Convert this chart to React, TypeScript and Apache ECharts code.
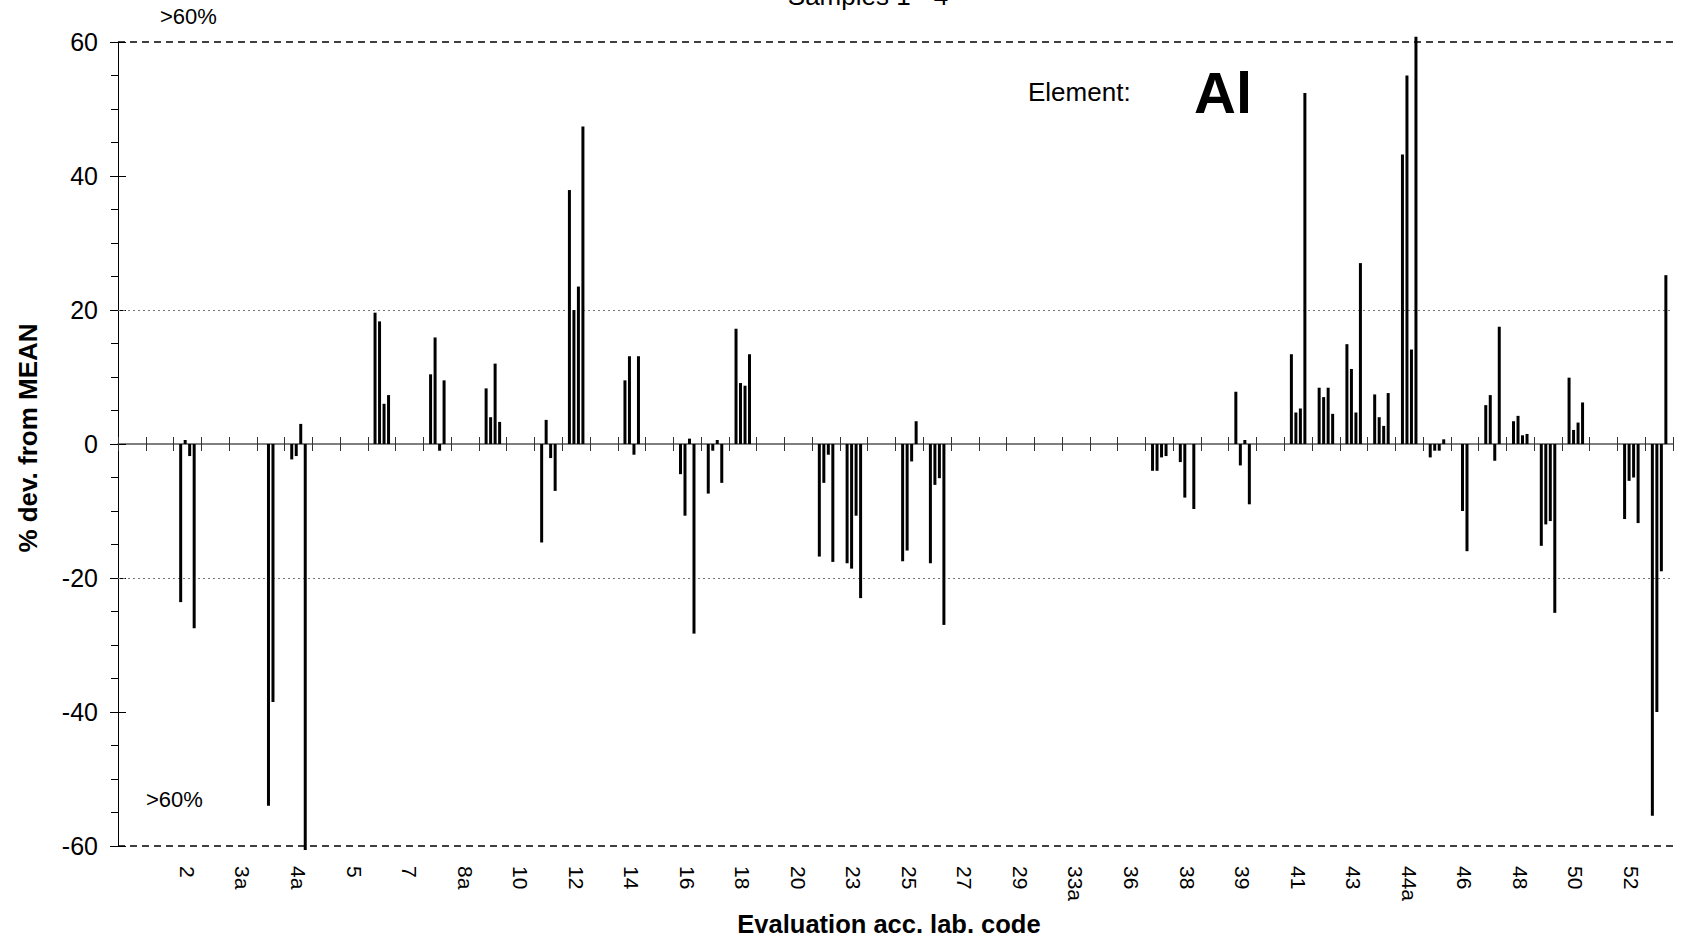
import { useEffect, useRef } from "react";
import * as echarts from "echarts";

// All lab codes on the category axis (every second one is labelled)
const labCodes = [
  "1", "1a", "2", "3", "3a", "4", "4a", "4b", "5", "6",
  "7", "8", "8a", "9", "10", "11", "12", "13", "14", "15",
  "16", "17", "18", "19", "20", "22", "23", "24", "25", "26",
  "27", "28", "29", "33", "33a", "35", "36", "37", "38", "38a",
  "39", "40", "41", "42", "43", "44", "44a", "45", "46", "47",
  "48", "49", "50", "51", "52", "53",
];

// Labs that reported results, and their % deviation from MEAN per sample
const reportedLabs = [
  "2", "4", "4a", "6", "8", "9", "11", "12", "14", "16",
  "17", "18", "22", "23", "25", "26", "37", "38", "39", "41",
  "42", "43", "44", "44a", "45", "46", "47", "48", "49", "50",
  "52", "53",
];
const sample1 = [
  -23.6, null, -2.3, 19.6, 10.4, 8.3, -14.7, 37.9, 9.5, -4.5,
  -7.4, 17.2, -16.8, -17.8, -17.5, -17.8, -4.0, -2.7, 7.8, 13.4,
  8.4, 14.9, 7.4, 43.2, -2.0, null, 5.8, 3.4, -15.2, 9.9,
  -11.2, -55.5,
];
const sample2 = [
  0.6, -54.0, -1.8, 18.3, 15.9, 4.0, 3.6, 20.0, 13.1, -10.7,
  -1.0, 9.1, -5.8, -18.6, -15.9, -6.1, -4.0, -8.0, -3.2, 4.7,
  7.0, 11.2, 4.0, 55.0, -1.0, -10.0, 7.3, 4.2, -12.0, 2.1,
  -5.5, -40.0,
];
const sample3 = [
  -1.8, -38.5, 3.0, 6.0, -1.0, 12.0, -2.1, 23.5, -1.6, 0.8,
  0.6, 8.7, -1.6, -10.7, -2.6, -5.1, -2.0, null, 0.6, 5.3,
  8.4, 4.7, 2.7, 14.1, -1.0, -16.0, -2.5, 1.3, -11.5, 3.2,
  -5.0, -19.0,
];
const sample4 = [
  -27.5, null, -60.6, 7.3, 9.5, 3.3, -7.0, 47.4, 13.1, -28.3,
  -5.8, 13.4, -17.6, -23.0, 3.4, -27.0, -1.8, -9.7, -9.0, 52.4,
  4.5, 27.0, 7.6, 60.8, 0.7, null, 17.5, 1.5, -25.2, 6.2,
  -11.8, 25.2,
];
const sampleNames = ["Sample 1", "Sample 2", "Sample 3", "Sample 4"];
const yTicks = { min: -60, max: 60, step: 20 };
const limitLines = [60, -60];
const warnLines = [20, -20];

const FONT = '"Liberation Sans", Arial, sans-serif';

function toCategorySeries(values: (number | null)[]) {
  return labCodes.map((code) => {
    const i = reportedLabs.indexOf(code);
    return i < 0 ? null : values[i];
  });
}

export default function App() {
  const ref = useRef<HTMLDivElement>(null);

  useEffect(() => {
    if (!ref.current) return;
    const chart = echarts.init(ref.current, null, { renderer: "svg" });

    const samples = [sample1, sample2, sample3, sample4];
    const series: any[] = samples.map((s, k) => ({
      name: sampleNames[k],
      type: "bar",
      xAxisIndex: 0,
      yAxisIndex: 0,
      data: toCategorySeries(s),
      barWidth: 3,
      barGap: "50%",
      clip: false,
      itemStyle: { color: "#000" },
      z: 3,
    }));
    series[0].markLine = {
      silent: true,
      symbol: "none",
      label: { show: false },
      z: 1,
      data: [
        ...limitLines.map((v) => ({
          yAxis: v,
          lineStyle: { color: "#000", width: 1.5, type: [7, 5] },
        })),
        ...warnLines.map((v) => ({
          yAxis: v,
          lineStyle: { color: "#777", width: 1, type: [2, 3] },
        })),
      ],
    };

    const txt = (
      text: string,
      x: number,
      y: number,
      font: string,
      align: string = "left",
      rotation = 0
    ) => ({
      type: "text",
      x,
      y,
      rotation,
      style: { text, font, fill: "#000", textAlign: align, textVerticalAlign: "middle" },
    });

    const option: any = {
      animation: false,
      backgroundColor: "#fff",
      grid: { left: 118, right: 22, top: 42, bottom: 95, containLabel: false },
      xAxis: [
        {
          type: "category",
          data: labCodes,
          position: "bottom",
          axisLine: { show: false, onZero: false },
          axisTick: { show: false },
          splitLine: { show: false },
          axisLabel: {
            rotate: -90,
            margin: 20,
            fontSize: 21,
            fontFamily: FONT,
            color: "#000",
            interval: (i: number) => i % 2 === 0 && i > 0,
          },
        },
        {
          type: "category",
          data: labCodes,
          position: "bottom",
          axisLine: { show: true, onZero: true, lineStyle: { color: "#555", width: 1.5 } },
          axisTick: { show: true, interval: 0, length: 7, lineStyle: { color: "#333", width: 1 } },
          axisLabel: { show: false },
          splitLine: { show: false },
        },
        {
          type: "category",
          data: labCodes,
          position: "top",
          axisLine: { show: false, onZero: true },
          axisTick: { show: true, interval: 0, length: 7, lineStyle: { color: "#333", width: 1 } },
          axisLabel: { show: false },
          splitLine: { show: false },
        },
      ],
      yAxis: [
        {
          type: "value",
          min: yTicks.min,
          max: yTicks.max,
          interval: yTicks.step,
          position: "left",
          axisLine: { show: true, lineStyle: { color: "#000", width: 1 } },
          axisTick: { show: true, length: 8, lineStyle: { color: "#000" } },
          minorTick: { show: true, splitNumber: 4, length: 7, lineStyle: { color: "#000" } },
          splitLine: { show: false },
          axisLabel: { fontSize: 25, fontFamily: FONT, color: "#000", margin: 20 },
        },
        {
          type: "value",
          min: yTicks.min,
          max: yTicks.max,
          interval: yTicks.step,
          position: "left",
          axisLine: { show: false },
          axisTick: { show: true, inside: true, length: 8, lineStyle: { color: "#000" } },
          splitLine: { show: false },
          axisLabel: { show: false },
        },
      ],
      series,
      graphic: [
        txt("Samples 1 - 4", 868, -4, `26px ${FONT}`, "center"),
        txt(">60%", 160, 16, `22px ${FONT}`),
        txt(">60%", 146, 799, `22px ${FONT}`),
        txt("Element:", 1028, 92, `26px ${FONT}`),
        txt("Al", 1194, 92, `bold 58px ${FONT}`),
        txt("% dev. from MEAN", 28, 438, `bold 26px ${FONT}`, "center", Math.PI / 2),
        txt("Evaluation acc. lab. code", 889, 924, `bold 25.5px ${FONT}`, "center"),
      ],
    };

    chart.setOption(option);
    return () => chart.dispose();
  }, []);

  return (
    <div
      ref={ref}
      style={{ position: "fixed", left: 0, top: 0, width: 1695, height: 941, background: "#fff" }}
    />
  );
}
